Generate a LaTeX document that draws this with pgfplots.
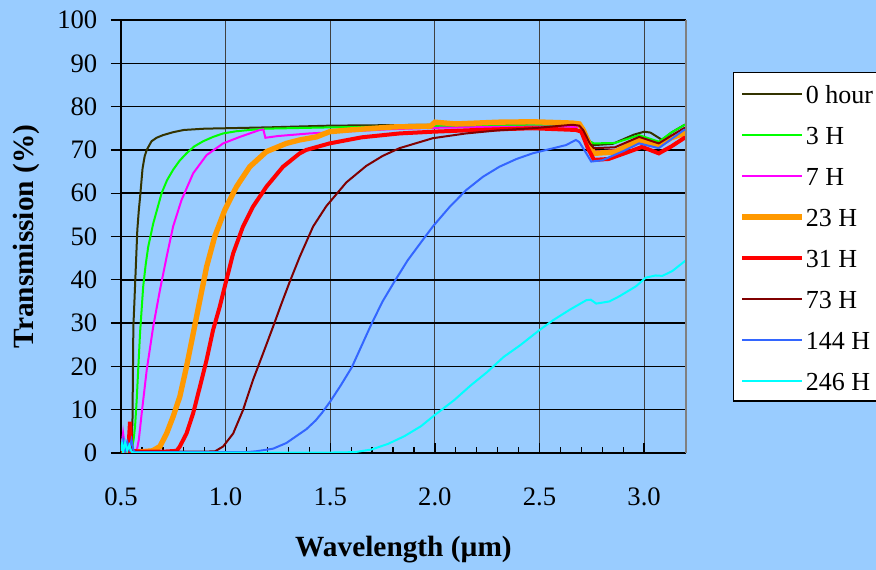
\documentclass[border=0pt]{standalone}
\usepackage{pgfplots}
\pgfplotsset{compat=1.18}
\usepackage{fontspec}
\setmainfont{Liberation Serif}
\definecolor{bgblue}{HTML}{99CCFF}
\definecolor{colA}{HTML}{333300}
\definecolor{colB}{HTML}{00FF00}
\definecolor{colC}{HTML}{FF00FF}
\definecolor{colD}{HTML}{FF9900}
\definecolor{colE}{HTML}{FF0000}
\definecolor{colF}{HTML}{800000}
\definecolor{colG}{HTML}{3366FF}
\definecolor{colH}{HTML}{00FFFF}
\newcommand{\lw}[1]{\makebox[80pt][l]{#1}}
\begin{document}
\begin{tikzpicture}
\useasboundingbox (0,0) rectangle (657pt,427.5pt);
\fill[bgblue] (0,0) rectangle (657pt,427.5pt);
\clip (0,0) rectangle (657pt,427.5pt);
\begin{axis}[
  at={(90.75pt,87.75pt)}, anchor=south west,
  scale only axis, width=423.75pt, height=324.75pt,
  xmin=0.5, xmax=3.2, ymin=0, ymax=100,
  axis lines*=left,
  axis line style={black, line width=1.1pt},
  xtick={0.5,1.0,1.5,2.0,2.5,3.0},
  xticklabels={0.5,1.0,1.5,2.0,2.5,3.0},
  minor x tick num=4,
  ytick={0,10,20,30,40,50,60,70,80,90,100},
  yticklabels={0,10,20,30,40,50,60,70,80,90,100},
  xtick align=inside, ytick align=outside,
  major tick length=7.5pt, minor tick length=4.5pt,
  tick style={black, line width=1pt},
  xmajorgrids, ymajorgrids,
  x grid style={black!75, line width=0.8pt},
  y grid style={black, line width=1.1pt},
  tick label style={font=\fontsize{20}{24}\selectfont},
  xticklabel style={anchor=center, yshift=-33pt},
  yticklabel style={anchor=east, xshift=-6.75pt},
  xlabel={\textbf{Wavelength (µm)}},
  ylabel={\textbf{Transmission (\%)}},
  label style={font=\fontsize{22}{26}\selectfont},
  xlabel style={at={(axis description cs:0.5,-0.224)}, anchor=center},
  ylabel style={at={(axis description cs:-0.168,0.5)}, anchor=center},
  legend style={at={(axis description cs:1.0832,0.8799)}, anchor=north west,
    draw=black, line width=0.9pt, fill=white,
    font=\fontsize{19.5}{23}\selectfont,
    inner xsep=4.5pt, inner ysep=7.5pt, row sep=14.75pt,
    nodes={inner sep=0pt, text height=16pt, text depth=0pt}},
  legend cell align=left,
  legend image code/.code={\draw[#1] (0pt,-0.5pt) -- (45pt,-0.5pt);},
  /tikz/every odd column/.append style={column sep=0.75pt},
  extra description/.code={\draw[black!50, line width=1pt] (rel axis cs:1,0) -- (rel axis cs:1,1);},
]
\addplot[colA, line width=1.5pt] coordinates {
(0.50,0.5)(0.51,2.5)(0.52,0.8)(0.53,2.0)(0.54,1.0)(0.545,3)(0.55,1.0)(0.555,8)(0.559,29)(0.565,36)(0.570,42)(0.578,51.5)(0.585,56)(0.591,59)(0.603,65.7)(0.613,68.5)(0.623,70)(0.646,72)(0.67,72.8)(0.70,73.4)(0.75,74.1)(0.80,74.6)(0.90,74.9)(1.0,75.0)(1.2,75.2)(1.5,75.6)(2.0,75.8)(2.3,76.0)(2.6,76.2)(2.69,76.1)(2.71,75)(2.74,72)(2.76,71.1)(2.85,71.4)(2.95,73.5)(3.0,74.2)(3.03,74.0)(3.086,72.3)(3.13,74)(3.19,75.7)(3.2,75.9)};
\addlegendentry{\lw{0 hour}}
\addplot[colB, line width=1.5pt] coordinates {
(0.50,1)(0.505,3.2)(0.51,0.5)(0.52,2)(0.53,0.5)(0.54,1.5)(0.55,0.5)(0.56,3)(0.567,6)(0.575,12.2)(0.583,20)(0.591,27.7)(0.606,38.4)(0.618,43.5)(0.630,47.6)(0.654,53)(0.694,60)(0.72,63)(0.749,65.4)(0.78,67.5)(0.813,69.2)(0.85,70.8)(0.893,72)(0.94,73)(0.988,73.8)(1.05,74.3)(1.115,74.6)(1.19,74.9)(1.5,75.2)(2.0,75.5)(2.5,75.7)(2.69,75.8)(2.71,74.8)(2.74,72)(2.76,71.5)(2.86,71.6)(2.976,73.4)(3.07,71.9)(3.13,74)(3.19,75.7)(3.2,75.8)};
\addlegendentry{\lw{3 H}}
\addplot[colC, line width=1.5pt] coordinates {
(0.50,0.5)(0.51,4.6)(0.52,1)(0.53,2.5)(0.55,0.5)(0.575,0.5)(0.585,3)(0.599,9.2)(0.623,19.2)(0.654,29.2)(0.686,37.6)(0.718,45.3)(0.749,52.3)(0.789,58.4)(0.845,64.6)(0.909,68.8)(0.988,71.5)(1.068,73)(1.163,74.6)(1.18,74.7)(1.19,72.8)(1.25,73.2)(1.4,73.8)(1.6,74.3)(1.8,74.8)(2.0,75.1)(2.3,75.3)(2.6,75.4)(2.69,75.3)(2.71,74.2)(2.74,71)(2.76,69.6)(2.86,69.9)(2.976,72.2)(3.07,70.8)(3.13,72.5)(3.19,73.6)(3.2,73.7)};
\addlegendentry{\lw{7 H}}
\addplot[colD, line width=4pt] coordinates {
(0.50,0.3)(0.52,0.8)(0.55,0.3)(0.60,0.3)(0.65,0.5)(0.686,1.5)(0.718,4.5)(0.749,8.4)(0.781,13)(0.813,19.9)(0.845,27.6)(0.877,35.3)(0.909,43)(0.948,50)(0.996,56.1)(1.052,61.5)(1.115,66.1)(1.195,69.6)(1.29,71.5)(1.354,72.3)(1.434,73)(1.497,74.2)(1.593,74.6)(1.8,75.3)(1.98,75.5)(2.0,76.4)(2.1,76.0)(2.3,76.4)(2.466,76.5)(2.657,76.2)(2.69,76)(2.71,74.5)(2.74,71)(2.76,69.2)(2.86,69.5)(2.976,72.3)(3.07,71.1)(3.13,72.8)(3.19,73.8)(3.2,73.9)};
\addlegendentry{\lw{23 H}}
\addplot[colE, line width=3pt] coordinates {
(0.50,0.5)(0.52,1.5)(0.535,0.5)(0.543,7.2)(0.55,0.5)(0.60,0.3)(0.70,0.3)(0.766,0.5)(0.781,1.5)(0.813,4.5)(0.845,9.2)(0.877,15.3)(0.909,21.5)(0.940,28.4)(0.972,33.8)(1.004,40)(1.036,46.1)(1.083,52.3)(1.131,56.9)(1.195,61.5)(1.274,66.1)(1.354,69.2)(1.386,70)(1.497,71.5)(1.65,72.9)(1.831,73.8)(1.99,74.2)(2.2,74.6)(2.466,75)(2.674,74.6)(2.70,74.2)(2.73,70.5)(2.76,67.7)(2.83,67.9)(2.94,69.8)(2.99,70.7)(3.07,69.2)(3.13,70.8)(3.19,72.7)(3.2,72.8)};
\addlegendentry{\lw{31 H}}
\addplot[colF, line width=1.5pt] coordinates {
(0.50,0.5)(0.52,1.5)(0.54,0.5)(0.55,1.2)(0.56,0.3)(0.90,0.3)(0.95,0.4)(0.988,1.5)(1.036,4.5)(1.083,9.9)(1.131,16.9)(1.179,23)(1.227,29.2)(1.267,34.5)(1.306,39.5)(1.354,45.3)(1.418,52.3)(1.481,57)(1.577,62.5)(1.672,66.3)(1.75,68.6)(1.831,70.4)(1.99,72.7)(2.149,73.8)(2.3,74.5)(2.467,75)(2.657,75.8)(2.69,75.6)(2.71,74.5)(2.74,71.5)(2.76,70.4)(2.86,70.6)(2.976,73)(3.07,71.5)(3.13,73.3)(3.19,75)(3.2,75.1)};
\addlegendentry{\lw{73 H}}
\addplot[colG, line width=1.5pt] coordinates {
(0.50,1)(0.51,3)(0.52,0.5)(0.53,2.5)(0.54,1)(0.55,3)(0.56,0.5)(0.57,0.2)(1.10,0.2)(1.147,0.4)(1.227,1)(1.29,2.3)(1.386,5.5)(1.43,7.5)(1.461,9.3)(1.5,11.9)(1.55,15.6)(1.603,19.8)(1.65,24.8)(1.697,29.8)(1.75,35)(1.808,39.7)(1.87,44.5)(1.942,49.2)(1.99,52.3)(2.07,56.8)(2.149,60.7)(2.23,63.8)(2.308,66.1)(2.39,67.9)(2.467,69.2)(2.55,70.2)(2.626,71.1)(2.674,72.3)(2.69,71.8)(2.72,69.5)(2.747,67.3)(2.80,67.6)(2.90,69.7)(2.976,71.5)(3.07,70.4)(3.13,72.5)(3.19,74.6)(3.2,74.7)};
\addlegendentry{\lw{144 H}}
\addplot[colH, line width=1.5pt] coordinates {
(0.50,0.5)(0.505,2)(0.51,0.3)(0.52,2.5)(0.53,0.5)(0.54,1.8)(0.55,0.3)(0.56,0.1)(1.5,0.1)(1.618,0.2)(1.697,0.8)(1.776,2.1)(1.855,3.9)(1.934,6.2)(2.0,8.8)(2.092,12.2)(2.171,15.6)(2.25,18.7)(2.329,22.2)(2.408,24.9)(2.5,28.4)(2.566,30.7)(2.645,33.1)(2.724,35.3)(2.745,35.4)(2.771,34.5)(2.834,35.0)(2.882,36.2)(2.961,38.5)(3.008,40.5)(3.055,41.0)(3.087,40.9)(3.134,42.0)(3.197,44.4)};
\addlegendentry{\lw{246 H}}
\end{axis}
\end{tikzpicture}
\end{document}
